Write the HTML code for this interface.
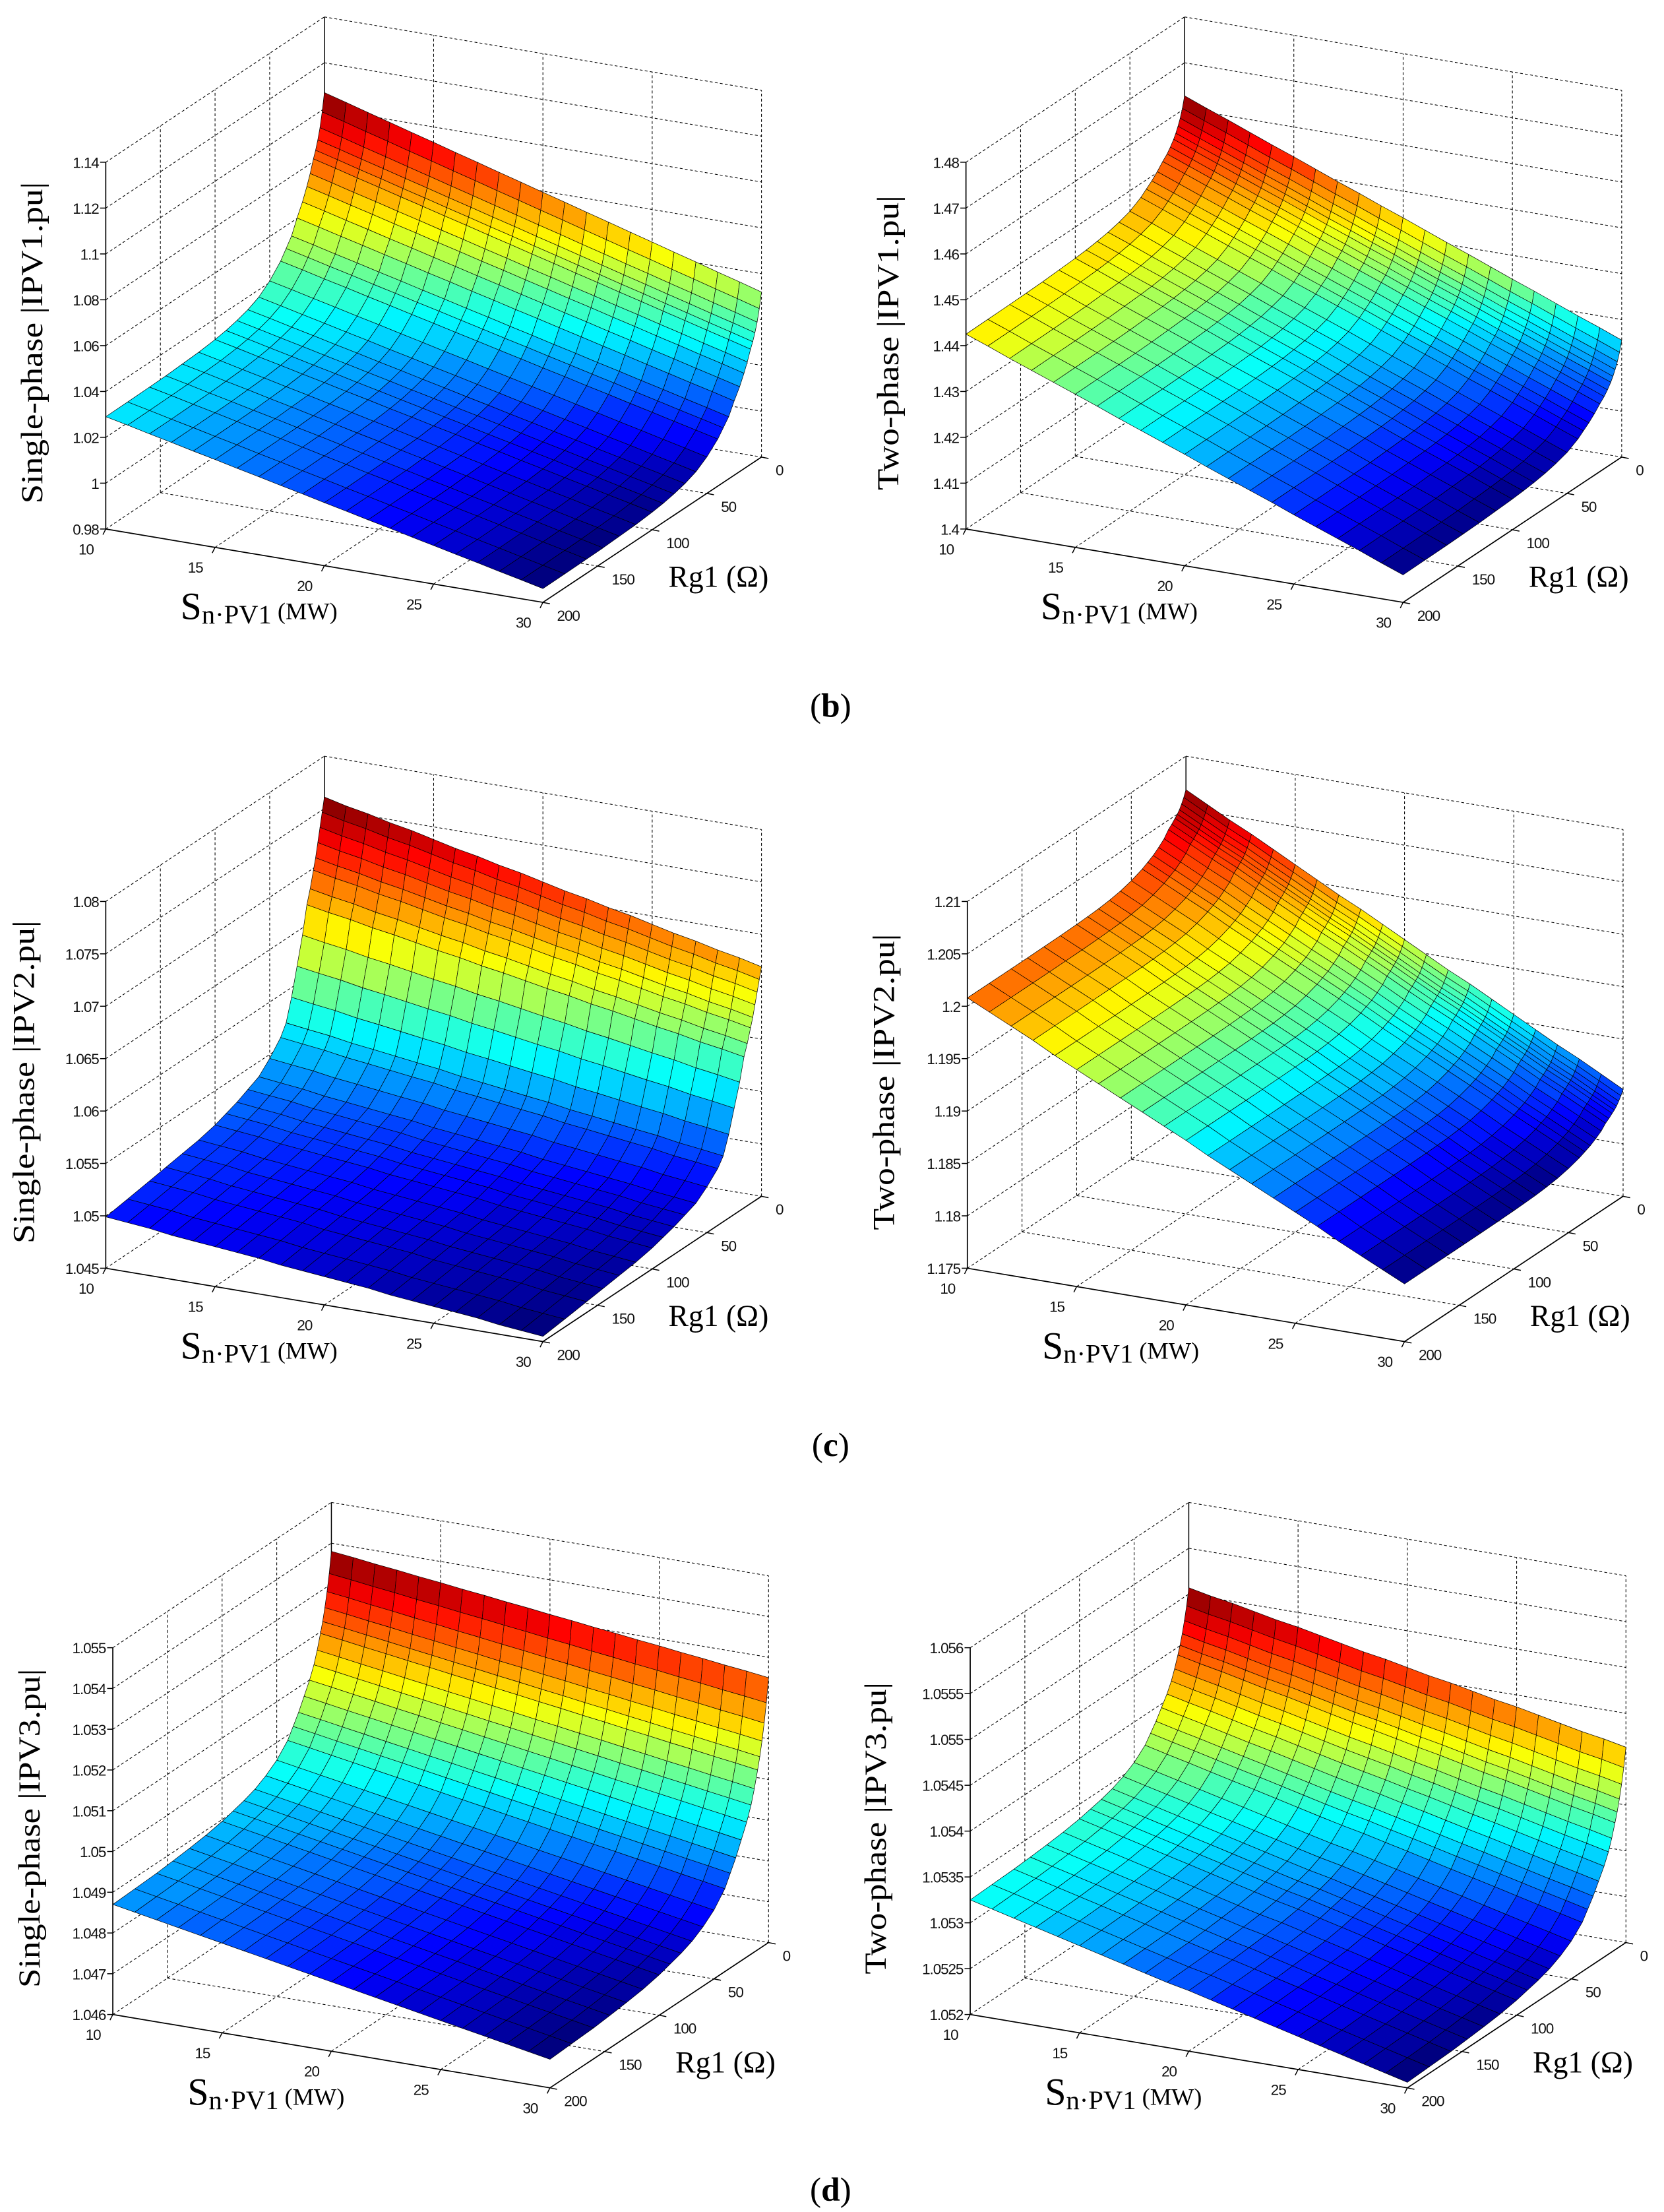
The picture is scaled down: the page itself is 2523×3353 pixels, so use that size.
<!DOCTYPE html>
<html><head><meta charset="utf-8"><style>
html,body{margin:0;padding:0;background:#fff;}
svg{display:block;}
</style></head><body>
<svg id="fig" xmlns="http://www.w3.org/2000/svg" width="2523" height="3353" viewBox="0 0 1180 1568" preserveAspectRatio="none">
<rect x="0" y="0" width="1180" height="1568" fill="#fff"/>
<text x="589" y="508" text-anchor="middle" font-family="Liberation Serif, serif" font-size="24">(<tspan font-weight="bold">b</tspan>)</text>
<text x="589" y="1032" text-anchor="middle" font-family="Liberation Serif, serif" font-size="24">(<tspan font-weight="bold">c</tspan>)</text>
<text x="589" y="1560" text-anchor="middle" font-family="Liberation Serif, serif" font-size="24">(<tspan font-weight="bold">d</tspan>)</text>
</svg>
<script>
// shared axes data
const S_VALUES = [10,11,12,13,14,15,16,17,18,19,20,21,22,23,24,25,26,27,28,29,30];
const RG_VALUES = [0,2,4,6,8,10,13,16,20,25,30,35,40,50,60,70,80,90,100,115,130,145,160,180,200];
const S_TICKS = ['10','15','20','25','30'];
const RG_TICKS = ['0','50','100','150','200'];

// plot 1: single-phase IPV1
const p1Low  = [1.029,1.0269,1.0247,1.0226,1.0204,1.0183,1.0161,1.014,1.0118,1.0097,1.0075,1.0054,1.0032,1.0011,0.9989,0.9968,0.9946,0.9925,0.9903,0.9882,0.986];
const p1High = [1.107,1.1043,1.1015,1.0988,1.096,1.0933,1.0905,1.0878,1.085,1.0823,1.0795,1.0768,1.074,1.0713,1.0685,1.0658,1.063,1.0603,1.0575,1.0548,1.052];
const p1Profile = [1,0.9,0.82,0.76,0.71,0.67,0.6,0.54,0.47,0.4,0.32,0.27,0.22,0.15,0.1,0.07,0.05,0.035,0.025,0.015,0.01,0.005,0.003,0.001,0];
const p1Ticks = ['0.98','1','1.02','1.04','1.06','1.08','1.1','1.12','1.14'];
// plot 2: two-phase IPV1
const p2Low  = [1.4425,1.4407,1.4388,1.437,1.4352,1.4334,1.4316,1.4297,1.4279,1.4261,1.4243,1.4224,1.4206,1.4188,1.417,1.4151,1.4133,1.4115,1.4097,1.4078,1.406];
const p2High = [1.4628,1.4609,1.4591,1.4572,1.4553,1.4535,1.4516,1.4497,1.4479,1.446,1.4442,1.4423,1.4404,1.4386,1.4367,1.4348,1.433,1.4311,1.4292,1.4274,1.4255];
const p2Profile = [1,0.88,0.79,0.72,0.66,0.61,0.55,0.5,0.45,0.38,0.32,0.27,0.22,0.15,0.11,0.08,0.06,0.045,0.035,0.025,0.015,0.01,0.006,0.003,0];
const p2Ticks = ['1.4','1.41','1.42','1.43','1.44','1.45','1.46','1.47','1.48'];
// plot 3: single-phase IPV2
const p3Low  = [1.0499,1.0497,1.0495,1.0492,1.049,1.0488,1.0486,1.0484,1.0481,1.0479,1.0477,1.0475,1.0473,1.047,1.0468,1.0466,1.0464,1.0462,1.0459,1.0457,1.0455];
const p3High = [1.0761,1.0756,1.0752,1.0747,1.0743,1.0738,1.0733,1.0729,1.0724,1.072,1.0715,1.071,1.0706,1.0701,1.0697,1.0692,1.0687,1.0683,1.0678,1.0674,1.0669];
const p3Profile = [1,0.95,0.9,0.85,0.8,0.76,0.7,0.65,0.55,0.45,0.35,0.27,0.23,0.18,0.14,0.12,0.1,0.085,0.07,0.055,0.045,0.035,0.025,0.012,0];
const p3Ticks = ['1.045','1.05','1.055','1.06','1.065','1.07','1.075','1.08'];
// plot 4: two-phase IPV2
const p4Low  = [1.2008,1.1998,1.1988,1.1978,1.1967,1.1957,1.1947,1.1937,1.1927,1.1917,1.1907,1.1896,1.1886,1.1876,1.1866,1.1856,1.1846,1.1835,1.1825,1.1815,1.1805];
const p4High = [1.2068,1.2057,1.2046,1.2036,1.2025,1.2014,1.2003,1.1992,1.1982,1.1971,1.196,1.1949,1.1938,1.1928,1.1917,1.1906,1.1895,1.1884,1.1874,1.1863,1.1852];
const p4Profile = [1,0.9,0.82,0.75,0.7,0.66,0.6,0.55,0.45,0.37,0.3,0.25,0.2,0.13,0.08,0.05,0.03,0.02,0.012,0.006,0.003,0.001,0,0,0];
const p4Ticks = ['1.175','1.18','1.185','1.19','1.195','1.2','1.205','1.21'];
// plot 5: single-phase IPV3
const p5Low  = [1.0487,1.0486,1.0485,1.0484,1.0483,1.0482,1.0481,1.048,1.0479,1.0478,1.0477,1.0476,1.0475,1.0474,1.0473,1.0472,1.0471,1.047,1.0469,1.0468,1.0467];
const p5High = [1.0538,1.05374,1.05367,1.05361,1.05354,1.05348,1.05341,1.05335,1.05328,1.05322,1.05315,1.05309,1.05302,1.05296,1.05289,1.05283,1.05276,1.0527,1.05263,1.05257,1.0525];
const p5Profile = [1,0.9,0.82,0.75,0.69,0.64,0.57,0.51,0.45,0.39,0.33,0.28,0.23,0.17,0.13,0.1,0.08,0.065,0.05,0.035,0.025,0.017,0.01,0.005,0];
const p5Ticks = ['1.046','1.047','1.048','1.049','1.05','1.051','1.052','1.053','1.054','1.055'];
// plot 6: two-phase IPV3
const p6Low  = [1.05325,1.05319,1.05313,1.05307,1.05301,1.05295,1.05289,1.05283,1.05277,1.05271,1.05266,1.0526,1.05254,1.05248,1.05242,1.05236,1.0523,1.05224,1.05218,1.05212,1.05206];
const p6High = [1.05507,1.05502,1.05498,1.05493,1.05488,1.05484,1.05479,1.05474,1.05469,1.05465,1.0546,1.05455,1.05451,1.05446,1.05441,1.05437,1.05432,1.05427,1.05422,1.05418,1.05413];
const p6Profile = [1,0.9,0.82,0.75,0.69,0.64,0.57,0.51,0.45,0.39,0.33,0.28,0.23,0.17,0.13,0.1,0.08,0.065,0.05,0.035,0.025,0.017,0.01,0.005,0];
const p6Ticks = ['1.052','1.0525','1.053','1.0535','1.054','1.0545','1.055','1.0555','1.056'];

const NS = 'http://www.w3.org/2000/svg';
const svg = document.getElementById('fig');
function mk(tag, attrs, parent){
  const e = document.createElementNS(NS, tag);
  for (const k in attrs) e.setAttribute(k, attrs[k]);
  (parent||svg).appendChild(e);
  return e;
}
function jet(t){
  t = Math.max(0, Math.min(1, t));
  t = Math.floor(t*63.999)/63;
  const c = v => Math.round(255*Math.max(0, Math.min(1, v)));
  return 'rgb(' + c(1.5-Math.abs(4*t-3)) + ',' + c(1.5-Math.abs(4*t-2)) + ',' + c(1.5-Math.abs(4*t-1)) + ')';
}

const plots = [
  {key:'p1', ox:75,  oy:375,  low:p1Low, high:p1High, prof:p1Profile, ticks:p1Ticks, title:'Single-phase |IPV1.pu|', tx:-52, tl:228},
  {key:'p2', ox:685, oy:375,  low:p2Low, high:p2High, prof:p2Profile, ticks:p2Ticks, title:'Two-phase |IPV1.pu|', tx:-55, tl:209},
  {key:'p3', ox:75,  oy:899,  low:p3Low, high:p3High, prof:p3Profile, ticks:p3Ticks, title:'Single-phase |IPV2.pu|', tx:-58, tl:229},
  {key:'p4', ox:686, oy:899,  low:p4Low, high:p4High, prof:p4Profile, ticks:p4Ticks, title:'Two-phase |IPV2.pu|', tx:-59, tl:210},
  {key:'p5', ox:80,  oy:1428, low:p5Low, high:p5High, prof:p5Profile, ticks:p5Ticks, title:'Single-phase |IPV3.pu|', tx:-59, tl:226},
  {key:'p6', ox:688, oy:1428, low:p6Low, high:p6High, prof:p6Profile, ticks:p6Ticks, title:'Two-phase |IPV3.pu|', tx:-67, tl:207}
];

plots.forEach(P => {
  const g = mk('g', {});
  
  
  const tv = P.ticks.map(Number);
  const zmin = tv[0], zmax = tv[tv.length-1];
  const sMin = Number(S_TICKS[0]), sMax = Number(S_TICKS[S_TICKS.length-1]);
  const rMax = Number(RG_TICKS[RG_TICKS.length-1]);
  function px(s, r, z){
    const a = (s - sMin)/(sMax - sMin), b = (rMax - r)/rMax, c = (z - zmin)/(zmax - zmin);
    return [P.ox + a*310 + b*155, P.oy + a*52 - b*103 - c*260];
  }
  function line(p, q, dashed, name, w){
    const l = mk('line', {x1:p[0].toFixed(2), y1:p[1].toFixed(2), x2:q[0].toFixed(2), y2:q[1].toFixed(2), stroke:'#000', 'stroke-width': w || (dashed?0.5:0.8)}, g);
    if (dashed) l.setAttribute('stroke-dasharray', '2,1.6');
    
    
  }
  S_TICKS.slice(1, -1).forEach(t => { const s = Number(t); line(px(s, rMax, zmin), px(s, 0, zmin), true, 'floor-gridline-s'); });
  RG_TICKS.slice(1, -1).forEach(t => { const r = Number(t); line(px(sMin, r, zmin), px(sMax, r, zmin), true, 'floor-gridline-rg'); });
  RG_TICKS.slice(1, -1).forEach(t => { const r = Number(t); line(px(sMin, r, zmin), px(sMin, r, zmax), true, 'side-wall-gridline'); });
  tv.slice(1).forEach(z => line(px(sMin, rMax, z), px(sMin, 0, z), true, 'side-wall-z-gridline'));
  S_TICKS.slice(1).forEach(t => { const s = Number(t); line(px(s, 0, zmin), px(s, 0, zmax), true, 'back-wall-gridline'); });
  tv.slice(1).forEach(z => line(px(sMin, 0, z), px(sMax, 0, z), true, 'back-wall-z-gridline'));
  line(px(sMin, 0, zmin), px(sMax, 0, zmin), true, 'back-floor-edge');
  line(px(sMin, rMax, zmin), px(sMin, 0, zmin), true, 'side-floor-edge');
  line(px(sMin, 0, zmin), px(sMin, 0, zmax), false, 'back-vertical-edge', 0.7);
  line(px(sMin, rMax, zmin), px(sMin, rMax, zmax), false, 'z-axis-line');
  line(px(sMin, rMax, zmin), px(sMax, rMax, zmin), false, 's-axis-line');
  line(px(sMax, rMax, zmin), px(sMax, 0, zmin), false, 'rg-axis-line');

  P.ticks.forEach((lab, k) => {
    const p = px(sMin, rMax, tv[k]);
    line([p[0]-4, p[1]], p, false, 'z-tick', 0.7);
    const t = mk('text', {x:(p[0]-5).toFixed(1), y:(p[1]+4).toFixed(1), 'text-anchor':'end', 'font-family':'Liberation Sans, sans-serif', 'font-size':'10.5', 'letter-spacing':'-0.5', fill:'#111'}, g);
    t.textContent = lab;
    
    
  });
  S_TICKS.forEach(lab => {
    const p = px(Number(lab), rMax, zmin);
    line(p, [p[0]-2, p[1]+4], false, 's-tick', 0.7);
    const t = mk('text', {x:(p[0]-14).toFixed(1), y:(p[1]+18).toFixed(1), 'text-anchor':'middle', 'font-family':'Liberation Sans, sans-serif', 'font-size':'10.5', 'letter-spacing':'-0.5', fill:'#111'}, g);
    t.textContent = lab;
    
    
  });
  RG_TICKS.forEach(lab => {
    const p = px(sMax, Number(lab), zmin);
    line(p, [p[0]+5, p[1]+1], false, 'rg-tick', 0.7);
    const t = mk('text', {x:(p[0]+10).toFixed(1), y:(p[1]+13).toFixed(1), 'text-anchor':'start', 'font-family':'Liberation Sans, sans-serif', 'font-size':'10.5', 'letter-spacing':'-0.5', fill:'#111'}, g);
    t.textContent = lab;
    
    
  });

  const V = S_VALUES.map((s, i) => RG_VALUES.map((r, j) => P.low[i] + (P.high[i] - P.low[i]) * P.prof[j]));
  let vmin = Infinity, vmax = -Infinity;
  V.forEach(row => row.forEach(v => { vmin = Math.min(vmin, v); vmax = Math.max(vmax, v); }));
  const cells = [];
  for (let i = 0; i < S_VALUES.length-1; i++) for (let j = 0; j < RG_VALUES.length-1; j++) {
    cells.push({i, j, d:(S_VALUES[i]-sMin)/(sMax-sMin) + RG_VALUES[j]/rMax});
  }
  cells.sort((a, b) => a.d - b.d);
  const sg = mk('g', {}, g);
  
  
  cells.forEach(c => {
    const {i, j} = c;
    const pts = [[i,j],[i+1,j],[i+1,j+1],[i,j+1]].map(([a,b]) => px(S_VALUES[a], RG_VALUES[b], V[a][b]));
    const mean = (V[i][j] + V[i+1][j] + V[i+1][j+1] + V[i][j+1]) / 4;
    const poly = mk('polygon', {points: pts.map(p => p[0].toFixed(2) + ',' + p[1].toFixed(2)).join(' '), fill: jet((mean - vmin)/(vmax - vmin)), stroke:'#000', 'stroke-width':'0.32', 'stroke-linejoin':'round'}, sg);
    
    
  });

  const cx = P.ox + P.tx, cy = P.oy - 132;
  const zt = mk('text', {x:cx, y:cy, transform:'rotate(-90 ' + cx + ' ' + cy + ')', 'text-anchor':'middle', 'dominant-baseline':'central', 'font-family':'Liberation Serif, serif', 'font-size':'22', textLength:P.tl, lengthAdjust:'spacingAndGlyphs', fill:'#000'}, g);
  zt.textContent = P.title;
  
  

  const st = mk('text', {x:P.ox+53, y:P.oy+64, 'font-family':'Liberation Serif, serif', fill:'#000'}, g);
  st.innerHTML = '<tspan font-size="27">S</tspan><tspan font-size="19" dy="3">n·PV1</tspan><tspan font-size="17" dy="-3"> (MW)</tspan>';
  
  

  const rt = mk('text', {x:P.ox+399, y:P.oy+41, 'font-family':'Liberation Serif, serif', 'font-size':'22', textLength:'71', lengthAdjust:'spacingAndGlyphs', fill:'#000'}, g);
  rt.textContent = 'Rg1 (Ω)';
  
  
});
</script>
</body></html>
